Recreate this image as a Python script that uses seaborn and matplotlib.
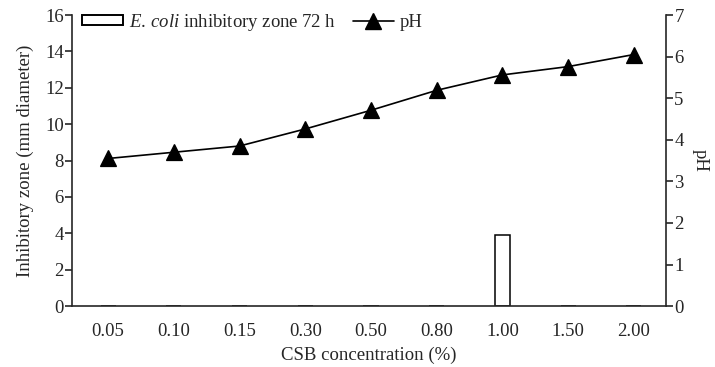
import matplotlib
matplotlib.use("Agg")
import matplotlib.pyplot as plt
from matplotlib.patches import Patch
from matplotlib.lines import Line2D
import seaborn as sns
import pandas as pd

concentrations = ["0.05", "0.10", "0.15", "0.30", "0.50", "0.80", "1.00", "1.50", "2.00"]
inhibitory_zone = [0, 0, 0, 0, 0, 0, 3.9, 0, 0]
ph_values = [3.55, 3.70, 3.85, 4.26, 4.71, 5.19, 5.56, 5.76, 6.05]

df = pd.DataFrame({"conc": concentrations, "zone": inhibitory_zone, "pH": ph_values})

sns.set_style("ticks")
plt.rcParams["font.family"] = ["Liberation Serif", "DejaVu Serif"]
plt.rcParams["mathtext.fontset"] = "custom"
plt.rcParams["mathtext.it"] = "Liberation Serif:italic"
plt.rcParams["mathtext.rm"] = "Liberation Serif"
plt.rcParams["axes.linewidth"] = 1.2

fs = 13.5

fig = plt.figure(figsize=(7.15, 3.67), dpi=100)
ax = fig.add_axes([0.1007, 0.166, 0.8308, 0.793])

sns.barplot(data=df, x="conc", y="zone", ax=ax, color="white",
            edgecolor="black", linewidth=1.1, width=0.23, errorbar=None,
            saturation=1)

ax2 = ax.twinx()
sns.pointplot(data=df, x="conc", y="pH", ax=ax2, color="black",
              markers="^", linestyles="-", errorbar=None,
              markersize=11, linewidth=1.2)

ax.set_xlim(-0.55, 8.49)
ax2.set_xlim(-0.55, 8.49)
ax.set_ylim(0, 16)
ax.set_yticks(range(0, 17, 2))
ax2.set_ylim(0, 7)
ax2.set_yticks(range(0, 8))

for a in (ax, ax2):
    a.spines["top"].set_visible(False)
    a.tick_params(axis="y", length=5, width=1.2, labelsize=fs, pad=1)
    a.tick_params(axis="x", length=0, labelsize=fs, pad=12)
ax.spines["right"].set_visible(False)
ax2.spines["left"].set_visible(False)
ax2.spines["bottom"].set_visible(False)

ax.set_xlabel("CSB concentration (%)", fontsize=fs, labelpad=5)
ax.set_ylabel("Inhibitory zone (mm diameter)", fontsize=fs, labelpad=8)
ax2.set_ylabel("pH", fontsize=fs, rotation=270, labelpad=18)

handles = [
    Patch(facecolor="white", edgecolor="black", linewidth=1.4),
    Line2D([], [], color="black", marker="^", markersize=11, linewidth=1.2),
]
labels = [r"$\it{E.\,coli}$ inhibitory zone 72 h", "pH"]
ax2.legend(handles, labels, loc="upper left", bbox_to_anchor=(-0.012, 1.07),
           ncol=2, frameon=False, fontsize=fs, handlelength=2.2,
           handleheight=0.5, handletextpad=0.3, columnspacing=0.9)

fig.savefig("out.png", dpi=100)
